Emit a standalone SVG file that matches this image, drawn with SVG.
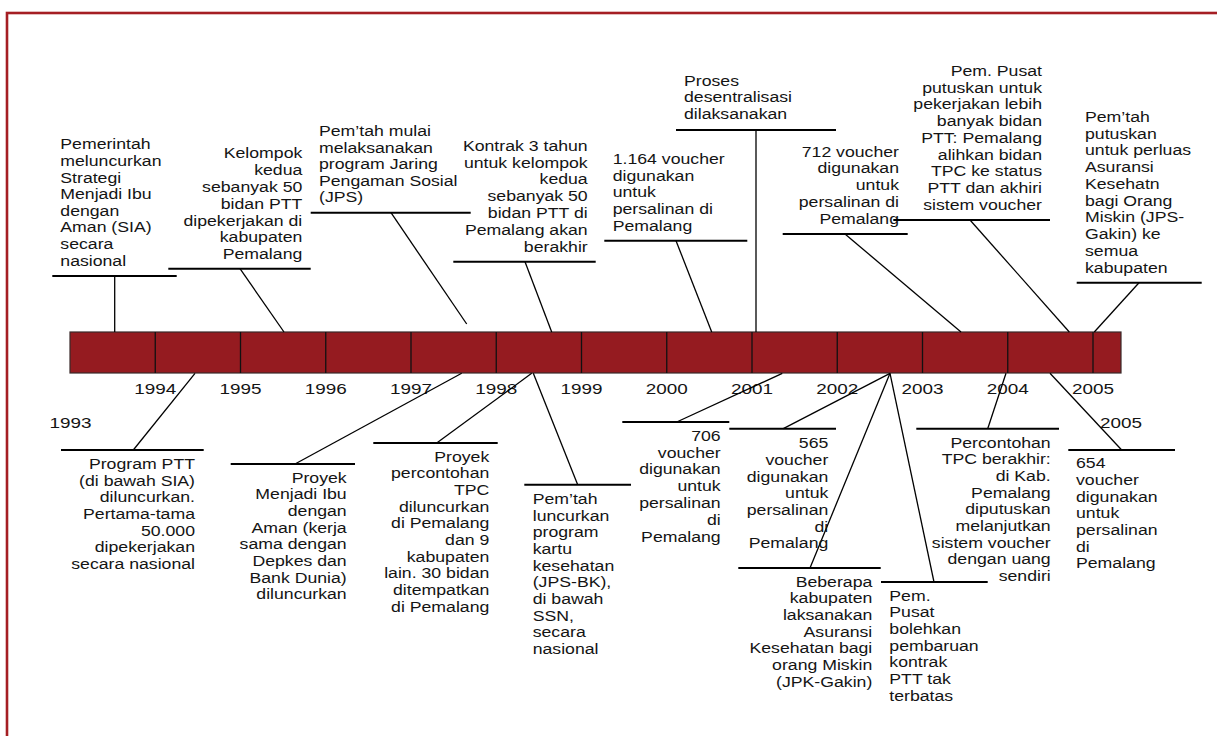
<svg xmlns="http://www.w3.org/2000/svg" width="1217" height="736" viewBox="0 0 1217 736">
<style>
.t{font-family:"Liberation Sans",Arial,sans-serif;font-size:14.5px;fill:#141414}
.y{font-family:"Liberation Sans",Arial,sans-serif;font-size:15.5px;fill:#141414}
.u{stroke:#000;stroke-width:2;fill:none}
.c{stroke:#000;stroke-width:1.3;fill:none}
.d{stroke:#111;stroke-width:1.3}
</style>
<rect width="1217" height="736" fill="#fff"/>
<rect x="7" y="13" width="1300" height="900" fill="none" stroke="#A51E23" stroke-width="2.6"/>
<g id="timeline">
<rect x="70" y="332" width="1051" height="41" fill="#951B20" stroke="#3a2a2a" stroke-width="1.2"/>
<g class="d">
<line x1="155.25" y1="332" x2="155.25" y2="373"/><line x1="240.5" y1="332" x2="240.5" y2="373"/>
<line x1="325.75" y1="332" x2="325.75" y2="373"/><line x1="411" y1="332" x2="411" y2="373"/>
<line x1="496.25" y1="332" x2="496.25" y2="373"/><line x1="581.5" y1="332" x2="581.5" y2="373"/>
<line x1="666.75" y1="332" x2="666.75" y2="373"/><line x1="752" y1="332" x2="752" y2="373"/>
<line x1="837.25" y1="332" x2="837.25" y2="373"/><line x1="922.5" y1="332" x2="922.5" y2="373"/>
<line x1="1007.75" y1="332" x2="1007.75" y2="373"/><line x1="1093" y1="332" x2="1093" y2="373"/>
</g>
<g class="y" text-anchor="middle">
<text transform="translate(70.5 428) scale(1.22 1)">1993</text>
<text transform="translate(155.25 394) scale(1.22 1)">1994</text>
<text transform="translate(240.5 394) scale(1.22 1)">1995</text>
<text transform="translate(325.75 394) scale(1.22 1)">1996</text>
<text transform="translate(411 394) scale(1.22 1)">1997</text>
<text transform="translate(496.25 394) scale(1.22 1)">1998</text>
<text transform="translate(581.5 394) scale(1.22 1)">1999</text>
<text transform="translate(666.75 394) scale(1.22 1)">2000</text>
<text transform="translate(752 394) scale(1.22 1)">2001</text>
<text transform="translate(837.25 394) scale(1.22 1)">2002</text>
<text transform="translate(922.5 394) scale(1.22 1)">2003</text>
<text transform="translate(1007.75 394) scale(1.22 1)">2004</text>
<text transform="translate(1093 394) scale(1.22 1)">2005</text>
<text transform="translate(1121 427.5) scale(1.22 1)">2005</text>
</g>
</g>

<g id="connectors" class="c">
<line x1="114.7" y1="276" x2="114.7" y2="332"/>
<line x1="240" y1="268.7" x2="284" y2="332"/>
<line x1="391" y1="212.7" x2="466.7" y2="324"/>
<line x1="525" y1="261.7" x2="551.7" y2="332"/>
<line x1="676" y1="240.7" x2="711.7" y2="332"/>
<line x1="756" y1="130" x2="756" y2="332"/>
<line x1="845" y1="234" x2="961" y2="332"/>
<line x1="970" y1="220" x2="1069.3" y2="332"/>
<line x1="1139" y1="282.7" x2="1094.3" y2="332"/>
<line x1="133.3" y1="450" x2="195" y2="373.3"/>
<line x1="295" y1="464" x2="461.7" y2="373.3"/>
<line x1="436.7" y1="443" x2="531.7" y2="373.3"/>
<line x1="577.7" y1="484.7" x2="533.3" y2="373.3"/>
<line x1="676.7" y1="422" x2="782.3" y2="373.3"/>
<line x1="783.3" y1="428.7" x2="890" y2="373.3"/>
<line x1="810" y1="568" x2="890" y2="373.3"/>
<line x1="934" y1="582" x2="890" y2="373.3"/>
<line x1="987.7" y1="428.7" x2="1006" y2="373.3"/>
<line x1="1121.7" y1="450" x2="1050" y2="373.3"/>
</g>

<g id="n1993-sia">
<line class="u" x1="52.3" y1="276" x2="176.7" y2="276"/>
<text class="t" transform="translate(60.3 149.3) scale(1.22 1)"><tspan x="0">Pemerintah</tspan><tspan x="0" dy="16.63">meluncurkan</tspan><tspan x="0" dy="16.63">Strategi</tspan><tspan x="0" dy="16.63">Menjadi Ibu</tspan><tspan x="0" dy="16.63">dengan</tspan><tspan x="0" dy="16.63">Aman (SIA)</tspan><tspan x="0" dy="16.63">secara</tspan><tspan x="0" dy="16.63">nasional</tspan></text>
</g>
<g id="n1995-kelompok">
<line class="u" x1="168.3" y1="268.7" x2="310.7" y2="268.7"/>
<text class="t" text-anchor="end" transform="translate(302.3 158.3) scale(1.22 1)"><tspan x="0">Kelompok</tspan><tspan x="0" dy="16.83">kedua</tspan><tspan x="0" dy="16.83">sebanyak 50</tspan><tspan x="0" dy="16.83">bidan PTT</tspan><tspan x="0" dy="16.83">dipekerjakan di</tspan><tspan x="0" dy="16.83">kabupaten</tspan><tspan x="0" dy="16.83">Pemalang</tspan></text>
</g>
<g id="n1997-jps">
<line class="u" x1="310.7" y1="212.7" x2="470.7" y2="212.7"/>
<text class="t" transform="translate(319 136) scale(1.22 1)"><tspan x="0">Pem’tah mulai</tspan><tspan x="0" dy="16.6">melaksanakan</tspan><tspan x="0" dy="16.6">program Jaring</tspan><tspan x="0" dy="16.6">Pengaman Sosial</tspan><tspan x="0" dy="16.6">(JPS)</tspan></text>
</g>
<g id="n1998-kontrak">
<line class="u" x1="453.3" y1="261.7" x2="595.7" y2="261.7"/>
<text class="t" text-anchor="end" transform="translate(587.7 150.7) scale(1.22 1)"><tspan x="0">Kontrak 3 tahun</tspan><tspan x="0" dy="16.83">untuk kelompok</tspan><tspan x="0" dy="16.83">kedua</tspan><tspan x="0" dy="16.83">sebanyak 50</tspan><tspan x="0" dy="16.83">bidan PTT di</tspan><tspan x="0" dy="16.83">Pemalang akan</tspan><tspan x="0" dy="16.83">berakhir</tspan></text>
</g>
<g id="n2000-1164">
<line class="u" x1="604.3" y1="240.7" x2="747.3" y2="240.7"/>
<text class="t" transform="translate(612.7 164) scale(1.22 1)"><tspan x="0">1.164 voucher</tspan><tspan x="0" dy="16.75">digunakan</tspan><tspan x="0" dy="16.75">untuk</tspan><tspan x="0" dy="16.75">persalinan di</tspan><tspan x="0" dy="16.75">Pemalang</tspan></text>
</g>
<g id="n2001-desentralisasi">
<line class="u" x1="676" y1="130" x2="836" y2="130"/>
<text class="t" transform="translate(684 86) scale(1.22 1)"><tspan x="0">Proses</tspan><tspan x="0" dy="16.5">desentralisasi</tspan><tspan x="0" dy="16.5">dilaksanakan</tspan></text>
</g>
<g id="n2002-712">
<line class="u" x1="782.7" y1="234" x2="907.7" y2="234"/>
<text class="t" text-anchor="end" transform="translate(899 156.7) scale(1.22 1)"><tspan x="0">712 voucher</tspan><tspan x="0" dy="16.8">digunakan</tspan><tspan x="0" dy="16.8">untuk</tspan><tspan x="0" dy="16.8">persalinan di</tspan><tspan x="0" dy="16.8">Pemalang</tspan></text>
</g>
<g id="n2004-pusat">
<line class="u" x1="893.3" y1="220" x2="1050" y2="220"/>
<text class="t" text-anchor="end" transform="translate(1042 76) scale(1.22 1)"><tspan x="0">Pem. Pusat</tspan><tspan x="0" dy="16.75">putuskan untuk</tspan><tspan x="0" dy="16.75">pekerjakan lebih</tspan><tspan x="0" dy="16.75">banyak bidan</tspan><tspan x="0" dy="16.75">PTT: Pemalang</tspan><tspan x="0" dy="16.75">alihkan bidan</tspan><tspan x="0" dy="16.75">TPC ke status</tspan><tspan x="0" dy="16.75">PTT dan akhiri</tspan><tspan x="0" dy="16.75">sistem voucher</tspan></text>
</g>
<g id="n2005-gakin">
<line class="u" x1="1076.7" y1="282.7" x2="1201.7" y2="282.7"/>
<text class="t" transform="translate(1085 122) scale(1.22 1)"><tspan x="0">Pem’tah</tspan><tspan x="0" dy="16.74">putuskan</tspan><tspan x="0" dy="16.74">untuk perluas</tspan><tspan x="0" dy="16.74">Asuransi</tspan><tspan x="0" dy="16.74">Kesehatn</tspan><tspan x="0" dy="16.74">bagi Orang</tspan><tspan x="0" dy="16.74">Miskin (JPS-</tspan><tspan x="0" dy="16.74">Gakin) ke</tspan><tspan x="0" dy="16.74">semua</tspan><tspan x="0" dy="16.74">kabupaten</tspan></text>
</g>

<g id="b1994-ptt">
<line class="u" x1="61" y1="450" x2="203.7" y2="450"/>
<text class="t" text-anchor="end" transform="translate(195 469.3) scale(1.22 1)"><tspan x="0">Program PTT</tspan><tspan x="0" dy="16.6">(di bawah SIA)</tspan><tspan x="0" dy="16.6">diluncurkan.</tspan><tspan x="0" dy="16.6">Pertama-tama</tspan><tspan x="0" dy="16.6">50.000</tspan><tspan x="0" dy="16.6">dipekerjakan</tspan><tspan x="0" dy="16.6">secara nasional</tspan></text>
</g>
<g id="b1997-proyek">
<line class="u" x1="230.7" y1="464" x2="355" y2="464"/>
<text class="t" text-anchor="end" transform="translate(346.7 482.7) scale(1.22 1)"><tspan x="0">Proyek</tspan><tspan x="0" dy="16.66">Menjadi Ibu</tspan><tspan x="0" dy="16.66">dengan</tspan><tspan x="0" dy="16.66">Aman (kerja</tspan><tspan x="0" dy="16.66">sama dengan</tspan><tspan x="0" dy="16.66">Depkes dan</tspan><tspan x="0" dy="16.66">Bank Dunia)</tspan><tspan x="0" dy="16.66">diluncurkan</tspan></text>
</g>
<g id="b1998-tpc">
<line class="u" x1="373.3" y1="443" x2="497.7" y2="443"/>
<text class="t" text-anchor="end" transform="translate(489.3 461.7) scale(1.22 1)"><tspan x="0">Proyek</tspan><tspan x="0" dy="16.67">percontohan</tspan><tspan x="0" dy="16.67">TPC</tspan><tspan x="0" dy="16.67">diluncurkan</tspan><tspan x="0" dy="16.67">di Pemalang</tspan><tspan x="0" dy="16.67">dan 9</tspan><tspan x="0" dy="16.67">kabupaten</tspan><tspan x="0" dy="16.67">lain. 30 bidan</tspan><tspan x="0" dy="16.67">ditempatkan</tspan><tspan x="0" dy="16.67">di Pemalang</tspan></text>
</g>
<g id="b1998-jpsbk">
<line class="u" x1="524.3" y1="484.7" x2="631" y2="484.7"/>
<text class="t" transform="translate(532.7 504) scale(1.22 1)"><tspan x="0">Pem’tah</tspan><tspan x="0" dy="16.67">luncurkan</tspan><tspan x="0" dy="16.67">program</tspan><tspan x="0" dy="16.67">kartu</tspan><tspan x="0" dy="16.67">kesehatan</tspan><tspan x="0" dy="16.67">(JPS-BK),</tspan><tspan x="0" dy="16.67">di bawah</tspan><tspan x="0" dy="16.67">SSN,</tspan><tspan x="0" dy="16.67">secara</tspan><tspan x="0" dy="16.67">nasional</tspan></text>
</g>
<g id="b2001-706">
<line class="u" x1="622.3" y1="422" x2="729.3" y2="422"/>
<text class="t" text-anchor="end" transform="translate(720.7 440.7) scale(1.22 1)"><tspan x="0">706</tspan><tspan x="0" dy="16.83">voucher</tspan><tspan x="0" dy="16.83">digunakan</tspan><tspan x="0" dy="16.83">untuk</tspan><tspan x="0" dy="16.83">persalinan</tspan><tspan x="0" dy="16.83">di</tspan><tspan x="0" dy="16.83">Pemalang</tspan></text>
</g>
<g id="b2002-565">
<line class="u" x1="729.3" y1="428.7" x2="836" y2="428.7"/>
<text class="t" text-anchor="end" transform="translate(828.3 448.3) scale(1.22 1)"><tspan x="0">565</tspan><tspan x="0" dy="16.67">voucher</tspan><tspan x="0" dy="16.67">digunakan</tspan><tspan x="0" dy="16.67">untuk</tspan><tspan x="0" dy="16.67">persalinan</tspan><tspan x="0" dy="16.67">di</tspan><tspan x="0" dy="16.67">Pemalang</tspan></text>
</g>
<g id="b2002-jpk">
<line class="u" x1="738.3" y1="568" x2="880.7" y2="568"/>
<text class="t" text-anchor="end" transform="translate(872.3 586.7) scale(1.22 1)"><tspan x="0">Beberapa</tspan><tspan x="0" dy="16.67">kabupaten</tspan><tspan x="0" dy="16.67">laksanakan</tspan><tspan x="0" dy="16.67">Asuransi</tspan><tspan x="0" dy="16.67">Kesehatan bagi</tspan><tspan x="0" dy="16.67">orang Miskin</tspan><tspan x="0" dy="16.67">(JPK-Gakin)</tspan></text>
</g>
<g id="b2002-kontrak">
<line class="u" x1="881" y1="582" x2="987.7" y2="582"/>
<text class="t" transform="translate(889.3 600.7) scale(1.22 1)"><tspan x="0">Pem.</tspan><tspan x="0" dy="16.67">Pusat</tspan><tspan x="0" dy="16.67">bolehkan</tspan><tspan x="0" dy="16.67">pembaruan</tspan><tspan x="0" dy="16.67">kontrak</tspan><tspan x="0" dy="16.67">PTT tak</tspan><tspan x="0" dy="16.67">terbatas</tspan></text>
</g>
<g id="b2004-tpc">
<line class="u" x1="916.3" y1="428.7" x2="1059" y2="428.7"/>
<text class="t" text-anchor="end" transform="translate(1050.7 447.7) scale(1.22 1)"><tspan x="0">Percontohan</tspan><tspan x="0" dy="16.67">TPC berakhir:</tspan><tspan x="0" dy="16.67">di Kab.</tspan><tspan x="0" dy="16.67">Pemalang</tspan><tspan x="0" dy="16.67">diputuskan</tspan><tspan x="0" dy="16.67">melanjutkan</tspan><tspan x="0" dy="16.67">sistem voucher</tspan><tspan x="0" dy="16.67">dengan uang</tspan><tspan x="0" dy="16.67">sendiri</tspan></text>
</g>
<g id="b2005-654">
<line class="u" x1="1068.3" y1="450" x2="1175" y2="450"/>
<text class="t" transform="translate(1076 468.3) scale(1.22 1)"><tspan x="0">654</tspan><tspan x="0" dy="16.67">voucher</tspan><tspan x="0" dy="16.67">digunakan</tspan><tspan x="0" dy="16.67">untuk</tspan><tspan x="0" dy="16.67">persalinan</tspan><tspan x="0" dy="16.67">di</tspan><tspan x="0" dy="16.67">Pemalang</tspan></text>
</g>
</svg>
